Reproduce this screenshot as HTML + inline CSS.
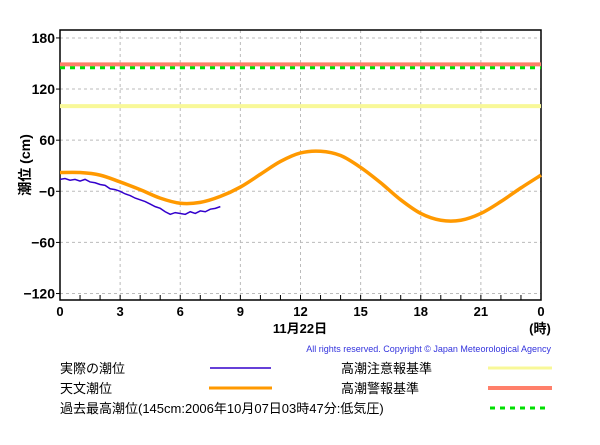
<!DOCTYPE html>
<html><head><meta charset="utf-8"><style>
body{margin:0;background:#fff;width:600px;height:440px;overflow:hidden}
svg text{font-family:"Liberation Sans","Noto Sans CJK JP",sans-serif}
</style></head><body>
<svg id="c" width="600" height="440" xmlns="http://www.w3.org/2000/svg"></svg>
<script>
const xTicks=[0,3,6,9,12,15,18,21,24];
const xTickLabels=["0","3","6","9","12","15","18","21","0"];
const yTicks=[180,120,60,0,-60,-120];
const yTickLabels=["180","120","60","−0","−60","−120"];
const astroHours=[0,1,2,3,4,5,6,7,8,9,10,11,12,13,14,15,16,17,18,19,20,21,22,23,24];
const astroValues=[22,22,19,11,2,-8,-14,-13,-6,5,20,35,45,47,42,28,10,-10,-26,-34,-34,-26,-12,4,19];
const obsHours=[0,0.25,0.5,0.75,1,1.25,1.5,1.75,2,2.25,2.5,2.75,3,3.25,3.5,3.75,4,4.25,4.5,4.75,5,5.25,5.5,5.75,6,6.25,6.5,6.75,7,7.25,7.5,7.75,8];
const obsValues=[14,15,13,14,12,14,11,10,8,7,3,2,0,-3,-5,-8,-10,-12,-15,-18,-20,-24,-27,-25,-26,-27,-24,-26,-23,-24,-21,-20,-18];
const warnLevel=149, cautionLevel=100, recordLevel=145;
const L=60,R=541,T=30,B=300;
const X=h=>L+h*(R-L)/24;
const Y=v=>191.3-v*0.852;
const svg=document.getElementById('c');
const NS='http://www.w3.org/2000/svg';
function mk(tag,attrs,name,txt){const e=document.createElementNS(NS,tag);for(const k in attrs)e.setAttribute(k,attrs[k]);


if(txt!==undefined)e.textContent=txt;svg.appendChild(e);return e;}
yTicks.forEach((v,i)=>{mk('line',{x1:L,x2:R,y1:Y(v),y2:Y(v),stroke:'#bbb','stroke-dasharray':'3,3'},'y-gridline');
mk('line',{x1:L-4,x2:L,y1:Y(v),y2:Y(v),stroke:'#000'},'y-tick');
mk('text',{x:L-5,y:Y(v)+5,'text-anchor':'end','font-size':'14','font-weight':'bold'},'y-tick-label',yTickLabels[i]);});
xTicks.forEach((h,i)=>{if(h>0&&h<24)mk('line',{x1:X(h),x2:X(h),y1:T,y2:B,stroke:'#bbb','stroke-dasharray':'3,3'},'x-gridline');
mk('text',{x:X(h),y:B+16,'text-anchor':'middle','font-size':'13','font-weight':'bold'},'x-tick-label',xTickLabels[i]);});
for(let h=1;h<24;h++)mk('line',{x1:X(h),x2:X(h),y1:B-5,y2:B,stroke:'#000'},'x-minor-tick');
mk('rect',{x:L,y:T,width:R-L,height:B-T,fill:'none',stroke:'#000','stroke-width':1.5},'plot-frame');
mk('line',{x1:L,x2:R,y1:Y(cautionLevel),y2:Y(cautionLevel),stroke:'#f8f898','stroke-width':4},'caution-level-line');
mk('line',{x1:L,x2:R,y1:Y(warnLevel),y2:Y(warnLevel),stroke:'#ff7f6a','stroke-width':4},'warning-level-line');
mk('line',{x1:L,x2:R,y1:Y(recordLevel),y2:Y(recordLevel),stroke:'#00e000','stroke-width':3,'stroke-dasharray':'5,5'},'record-level-line');
function spline(xs,ys){let p=xs.map((h,i)=>[X(h),Y(ys[i])]);let d='M'+p[0];
for(let i=0;i<p.length-1;i++){const p0=p[Math.max(i-1,0)],p1=p[i],p2=p[i+1],p3=p[Math.min(i+2,p.length-1)];
d+=` C${p1[0]+(p2[0]-p0[0])/6},${p1[1]+(p2[1]-p0[1])/6} ${p2[0]-(p3[0]-p1[0])/6},${p2[1]-(p3[1]-p1[1])/6} ${p2[0]},${p2[1]}`;}return d;}
mk('path',{d:spline(astroHours,astroValues),fill:'none',stroke:'#ff9900','stroke-width':3.5},'astronomical-tide-line');
mk('path',{d:'M'+obsHours.map((h,i)=>X(h)+','+Y(obsValues[i])).join(' L'),fill:'none',stroke:'#3300cc','stroke-width':1.5},'observed-tide-line');
mk('text',{x:30,y:165,transform:'rotate(-90 30 165)','text-anchor':'middle','font-size':'14','font-weight':'bold'},'y-axis-title','潮位 (cm)');
mk('text',{x:300,y:333,'text-anchor':'middle','font-size':'13','font-weight':'bold'},'x-axis-date','11月22日');
mk('text',{x:540,y:333,'text-anchor':'middle','font-size':'13','font-weight':'bold'},'x-axis-unit','(時)');
mk('text',{x:551,y:352,'text-anchor':'end','font-size':'9','fill':'#3333dd'},'copyright','All rights reserved. Copyright © Japan Meteorological Agency');
mk('text',{x:60,y:373,'font-size':'13'},'legend-observed-label','実際の潮位');
mk('line',{x1:210,x2:271,y1:368,y2:368,stroke:'#3300cc','stroke-width':1.5},'legend-observed-swatch');
mk('text',{x:60,y:393,'font-size':'13'},'legend-astro-label','天文潮位');
mk('line',{x1:209,x2:272,y1:388,y2:388,stroke:'#ff9900','stroke-width':3},'legend-astro-swatch');
mk('text',{x:60,y:413,'font-size':'13'},'legend-record-label','過去最高潮位(145cm:2006年10月07日03時47分:低気圧)');
mk('line',{x1:490,x2:545,y1:408,y2:408,stroke:'#00e000','stroke-width':3,'stroke-dasharray':'5,5'},'legend-record-swatch');
mk('text',{x:341,y:373,'font-size':'13'},'legend-caution-label','高潮注意報基準');
mk('line',{x1:488,x2:552,y1:368,y2:368,stroke:'#f8f898','stroke-width':3},'legend-caution-swatch');
mk('text',{x:341,y:393,'font-size':'13'},'legend-warning-label','高潮警報基準');
mk('line',{x1:488,x2:552,y1:388,y2:388,stroke:'#ff7f6a','stroke-width':4},'legend-warning-swatch');
</script>
</body></html>
